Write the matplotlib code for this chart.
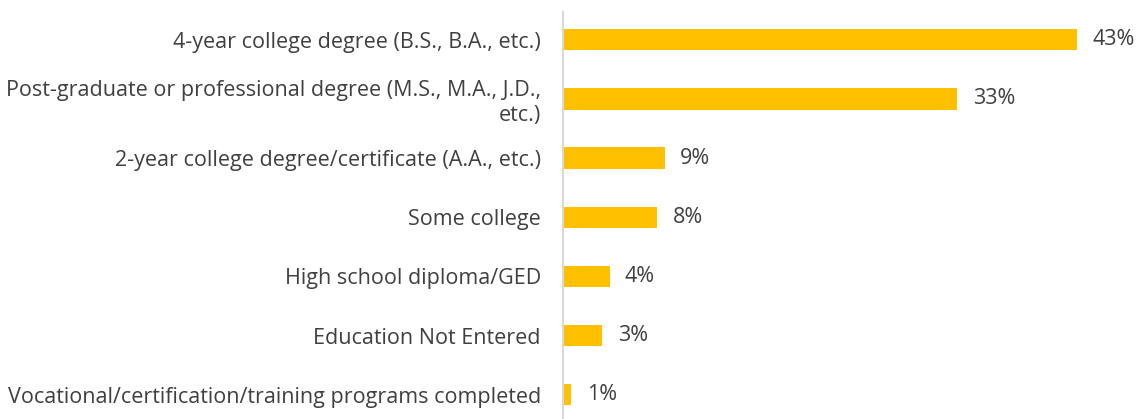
import matplotlib.pyplot as plt

categories = [
    "4-year college degree (B.S., B.A., etc.)",
    "Post-graduate or professional degree (M.S., M.A., J.D.,\netc.)",
    "2-year college degree/certificate (A.A., etc.)",
    "Some college",
    "High school diploma/GED",
    "Education Not Entered",
    "Vocational/certification/training programs completed",
]
values = [43.0, 33.0, 8.5, 7.9, 3.9, 3.3, 0.7]
value_labels = ["43%", "33%", "9%", "8%", "4%", "3%", "1%"]

text_color = "#404040"
bar_color = "#FFC000"

plt.rcParams["font.family"] = ["Open Sans", "DejaVu Sans"]

fig = plt.figure(figsize=(11.39, 4.19), dpi=100)
ax = fig.add_axes([563 / 1139, 0.0, 576 / 1139, 407 / 419])

y = list(range(len(categories)))
ax.barh(y, values, height=0.36, color=bar_color)

for yi, v, lab in zip(y, values, value_labels):
    ax.annotate(lab, (v, yi), xytext=(11, 0), textcoords="offset points",
                va="center", ha="left", fontsize=15.5, color=text_color)

ax.set_yticks(y)
ax.set_yticklabels(categories, fontsize=15.5, color=text_color, linespacing=1.25)
ax.tick_params(axis="y", length=0, pad=16)
ax.set_xticks([])

ax.set_xlim(0, 576 / 11.95)
ax.set_ylim(6.41, -0.47)

for side in ["top", "right", "bottom"]:
    ax.spines[side].set_visible(False)
ax.spines["left"].set_color("#d9d9d9")
ax.spines["left"].set_linewidth(1.5)

fig.savefig("out.png", dpi=100)
